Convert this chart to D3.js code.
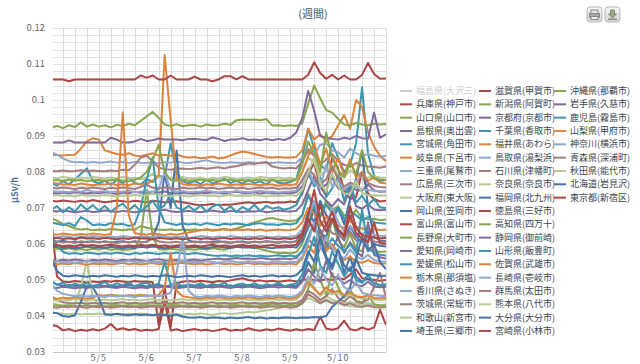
<!DOCTYPE html>
<html>
<head>
<meta charset="utf-8">
<script src="https://cdn.jsdelivr.net/npm/d3@7"></script>
<style>
  body { margin: 0; background: #fff; }
  svg { display: block; font-family: 'Noto Sans CJK JP', 'Noto Sans', sans-serif; }
</style>
</head>
<body>
<svg id="chart" width="640" height="364"></svg>
<script>
// legend order (column by column), 福島 is switched off in the original
var seriesNames = [
  '福島県(大沢三)', '兵庫県(神戸市)', '山口県(山口市)', '島根県(奥出雲)', '宮城県(角田市)', '岐阜県(下呂市)',
  '三重県(尾鷲市)', '広島県(三次市)', '大阪府(東大阪)', '岡山県(笠岡市)', '富山県(富山市)', '長野県(大町市)',
  '愛知県(岡崎市)', '愛媛県(松山市)', '栃木県(那須塩)', '香川県(さぬき)', '茨城県(常総市)', '和歌山(新宮市)',
  '埼玉県(三郷市)', '滋賀県(甲賀市)', '新潟県(阿賀町)', '京都府(京都市)', '千葉県(香取市)', '福井県(あわら)',
  '鳥取県(湯梨浜)', '石川県(津幡町)', '奈良県(奈良市)', '福岡県(北九州)', '徳島県(三好市)', '高知県(四万十)',
  '静岡県(御前崎)', '山形県(飯豊町)', '佐賀県(武雄市)', '長崎県(壱岐市)', '群馬県(太田市)', '熊本県(八代市)',
  '大分県(大分市)', '宮崎県(小林市)', '沖縄県(那覇市)', '岩手県(久慈市)', '鹿児島(霧島市)', '山梨県(甲府市)',
  '神奈川(横浜市)', '青森県(深浦町)', '秋田県(能代市)', '北海道(岩見沢)', '東京都(新宿区)'
];
var hiddenSeries = ['福島県(大沢三)'];

// readings in nSv/h (= 0.001 uSv/h), every 3 hours from 5/4 00:00 to 5/11 00:00
var hyogo = [
  72.0,71.8,72.1,71.9,71.7,72.0,71.8,72.2, 71.9,71.6,71.8,72.1,71.9,71.7,72.0,71.8,
  71.6,72.0,71.8,71.5,71.7,71.9,71.6,71.3, 71.0,70.8,70.9,71.1,70.8,71.0,70.9,71.2,
  71.4,71.6,71.3,71.5,71.7,71.4,71.6,71.5, 71.8,71.6,74.0,79.5,82.5,76.0,73.5,84.0,
  81.0,75.0,72.5,73.0,80.0,74.0,72.5,71.8, 72.0];
var yamaguchi = [
  67.2,66.5,65.5,65.0,64.3,64.0,64.2,63.8, 64.0,63.9,64.2,64.0,63.8,64.1,64.0,65.0,
  64.5,64.2,64.0,63.9,64.1,63.8,64.0,63.9, 64.0,63.8,64.1,63.9,64.0,64.2,63.9,64.3,
  64.8,65.4,66.0,66.5,67.0,67.2,66.8,66.5, 66.4,66.6,68.0,74.0,70.5,68.0,72.0,69.5,
  70.5,68.0,67.5,69.5,67.2,66.8,67.0,66.6, 66.8];
var shimane = [
  74.2,74.0,74.3,74.1,74.4,74.2,74.0,74.3, 74.1,74.4,74.2,73.9,74.3,74.1,74.5,74.2,
  74.4,74.0,74.3,74.6,74.2,74.0,74.3,74.1, 74.0,74.3,74.1,74.4,74.2,74.0,74.3,74.5,
  74.2,74.1,74.4,74.0,74.3,74.2,74.0,74.2, 74.1,74.4,76.0,79.0,77.5,75.5,76.5,78.5,
  75.5,74.6,76.0,75.0,74.8,76.5,74.9,74.5, 74.6];
var miyagi = [
  77.0,76.2,77.5,76.5,78.0,79.5,81.0,77.5, 76.8,77.6,76.4,77.8,76.9,78.4,77.0,76.5,
  78.0,77.2,79.0,78.5,88.0,80.0,77.4,76.8, 77.5,76.6,77.9,76.8,77.4,78.2,76.9,77.6,
  76.7,77.8,76.9,77.4,76.5,77.9,77.0,76.8, 77.2,78.0,84.0,92.0,86.5,82.0,80.5,88.0,
  84.0,80.0,82.0,88.0,103.5,85.0,79.0,77.5, 77.8];
var gifu = [
  84.7,84.7,84.6,84.7,84.8,86.5,88.5,89.4, 89.0,86.0,85.5,85.0,84.8,85.2,84.6,84.4,
  84.8,85.2,84.6,84.8,84.5,84.9,84.3,84.0, 84.2,83.8,84.0,84.3,83.8,84.0,84.6,85.2,
  85.7,85.4,85.0,84.6,84.2,84.0,84.2,84.0, 84.0,84.2,86.0,92.0,89.0,90.5,88.5,90.0,
  93.0,95.8,92.0,100.0,98.0,91.0,87.0,84.5, 83.0];
var mie = [
  85.6,84.8,83.8,83.0,82.7,82.8,82.6,82.8, 82.6,82.7,82.9,82.6,82.8,82.5,82.8,82.6,
  82.5,82.8,82.4,82.7,82.6,82.9,82.6,82.5, 82.7,83.0,83.3,82.8,82.6,82.5,82.7,82.6,
  82.5,82.8,82.6,82.4,82.6,82.5,82.7,82.6, 82.5,82.6,84.0,86.5,85.0,87.5,88.0,86.0,
  85.5,84.0,86.5,85.2,84.5,85.0,84.5,84.2, 84.5];
var hiroshima = [
  80.3,80.2,80.4,80.2,80.3,80.5,80.2,80.4, 80.3,80.2,80.4,80.3,80.6,80.5,82.0,84.0,
  84.5,83.0,81.2,80.8,80.6,80.9,81.0,80.8, 81.0,81.2,80.9,81.1,81.3,81.0,81.4,81.6,
  82.0,82.4,82.2,82.6,82.8,81.5,81.2,81.0, 81.2,81.0,83.0,86.0,84.5,82.0,83.5,85.0,
  83.0,82.0,81.5,82.5,81.8,81.5,81.4,81.2, 81.5];
var osaka = [
  78.5,78.3,78.6,78.4,78.2,78.5,78.3,78.6, 78.4,78.2,78.5,78.3,78.6,78.2,78.4,78.0,
  78.5,79.5,78.6,78.2,78.4,78.3,78.6,78.2, 78.3,78.5,78.0,78.4,78.2,78.6,78.4,78.1,
  78.3,78.5,78.2,78.6,78.4,78.3,78.5,78.2, 78.4,78.0,80.0,84.0,82.5,79.0,80.5,82.0,
  79.0,78.5,80.5,79.2,78.6,78.4,78.8,78.5, 78.4];
var okayama = [
  60.8,60.6,60.9,60.5,60.7,60.4,60.6,60.8, 60.5,60.7,60.4,60.6,60.8,60.5,60.7,60.4,
  60.6,62.0,66.0,80.0,70.0,86.0,65.0,61.0, 60.5,60.7,60.4,60.6,60.8,60.5,60.3,60.6,
  60.7,60.4,60.6,60.5,60.8,60.6,60.4,60.7, 60.5,60.8,63.0,69.0,66.0,72.0,68.0,66.5,
  70.0,65.5,72.5,78.0,86.0,70.0,62.0,61.0, 60.8];
var toyama = [
  67.6,51.0,49.6,49.4,49.7,49.5,49.3,49.6, 49.4,49.7,49.5,49.8,49.6,49.4,49.7,49.5,
  49.6,49.4,37.5,48.0,37.0,49.2,49.5,49.7, 49.5,49.8,49.6,49.4,49.7,49.5,49.9,50.2,
  50.5,50.0,49.7,49.9,49.6,49.8,49.5,49.7, 49.9,49.6,50.0,50.2,50.0,49.8,50.3,50.0,
  50.5,50.2,51.5,53.0,50.5,50.2,50.0,49.8, 50.0];
var nagano = [
  59.0,58.7,58.5,58.8,58.4,58.6,58.3,58.7, 58.5,58.8,58.4,58.6,58.3,58.5,58.7,62.0,
  75.0,62.0,58.6,58.4,58.7,58.5,58.3,58.6, 58.4,58.7,58.5,58.8,58.6,58.4,58.9,59.2,
  59.5,59.3,59.0,58.6,58.2,57.8,57.5,57.6, 57.4,57.7,60.0,65.0,72.0,62.0,58.5,67.0,
  61.0,59.0,63.0,58.5,58.0,64.0,58.2,57.8, 57.9];
var aichi = [
  69.2,69.0,69.3,69.1,68.8,69.0,69.2,68.9, 69.0,69.3,69.1,68.9,69.2,69.0,68.8,69.1,
  69.3,69.0,69.2,69.5,69.1,68.9,69.0,69.2, 69.0,68.8,69.1,69.3,69.0,68.9,69.2,69.0,
  68.9,69.1,69.0,69.2,68.8,69.0,69.3,69.1, 69.0,69.2,71.0,75.0,79.0,74.0,72.0,70.5,
  72.5,71.0,75.5,70.5,69.8,71.0,69.6,69.4, 69.5];
var ehime = [
  69.5,70.5,68.8,70.2,69.0,71.0,69.5,70.8, 69.2,70.6,68.9,70.3,71.2,69.4,70.8,69.0,
  70.5,72.0,69.5,70.8,74.0,70.2,69.4,70.6, 69.3,70.7,69.0,70.4,71.0,69.2,70.5,68.9,
  70.3,69.4,70.9,69.1,70.6,69.8,70.2,69.5, 70.0,70.8,74.5,80.0,76.0,78.5,73.0,75.5,
  79.0,72.0,77.0,71.5,73.5,70.8,72.5,70.2, 70.0];
var tochigi = [
  77.0,76.8,76.5,76.6,76.4,76.8,76.5,76.3, 76.6,76.5,76.8,76.4,76.6,76.3,76.8,76.5,
  76.8,77.5,79.0,112.5,94.5,78.0,76.6,76.4, 76.5,76.2,76.6,76.4,76.8,76.5,76.3,76.6,
  76.4,76.7,76.5,76.3,76.6,76.5,76.2,76.5, 76.4,76.6,80.0,84.5,88.0,82.0,86.5,80.0,
  84.0,79.0,83.5,78.5,80.0,77.5,78.5,77.0, 76.8];
var kagawa = [
  74.8,74.5,74.6,74.4,74.7,74.5,75.0,74.6, 74.5,74.7,74.4,74.6,74.5,74.8,74.4,74.6,
  74.6,74.5,75.2,80.0,75.0,74.5,74.7,74.4, 74.5,74.6,74.8,74.5,74.3,74.6,74.4,74.7,
  74.5,74.4,74.6,74.8,74.5,74.6,74.3,74.5, 74.6,74.8,78.0,80.5,77.0,75.5,82.0,76.0,
  77.5,75.0,76.5,75.8,75.2,75.0,74.8,74.6, 74.7];
var ibaraki = [
  75.6,75.4,75.7,75.5,75.3,75.6,75.4,75.7, 75.5,75.3,75.6,75.4,75.7,75.5,75.3,75.8,
  76.5,75.6,75.4,75.7,75.5,75.3,75.6,75.4, 75.5,75.7,75.4,75.6,75.3,75.5,75.7,75.4,
  75.6,75.3,75.5,75.7,75.4,75.6,75.3,75.5, 75.4,75.6,77.5,81.0,79.0,76.5,78.0,81.5,
  78.0,76.0,77.0,76.5,79.5,77.0,76.2,75.8, 75.6];
var wakayama = [
  43.5,43.2,43.0,43.2,43.5,48.0,55.5,45.0, 43.2,43.0,43.3,43.1,42.9,43.2,43.0,43.3,
  43.1,43.4,43.2,43.0,43.3,43.1,42.9,43.2, 43.0,43.3,43.1,42.9,43.2,43.0,43.3,43.1,
  42.9,43.2,43.0,43.3,43.1,42.9,43.2,43.0, 43.3,43.1,44.0,46.0,45.0,44.0,45.5,44.5,
  44.0,43.5,44.0,43.4,43.2,43.6,43.1,43.0, 43.2];
var saitama = [
  59.0,59.2,58.9,59.1,58.8,59.0,59.3,59.0, 59.1,58.9,59.2,59.0,58.8,59.1,58.9,59.2,
  59.0,59.3,59.1,58.8,59.0,59.2,58.9,59.1, 59.2,59.0,58.8,59.1,59.3,59.0,58.9,59.2,
  59.0,59.1,58.9,59.2,59.0,58.8,59.1,59.0, 59.2,59.0,61.0,64.5,70.0,63.0,62.0,67.0,
  63.0,61.0,65.0,62.0,60.5,63.5,60.0,59.5, 59.3];
var shiga = [
  105.7,105.7,105.7,105.2,105.7,105.7,105.7,105.7, 105.7,105.7,105.7,105.7,105.7,105.7,105.7,106.8,
  106.2,106.8,105.7,105.7,106.8,105.7,105.7,105.7, 106.5,105.7,105.7,105.2,105.7,106.6,106.6,105.7,
  106.6,105.7,105.7,105.7,105.7,105.7,105.7,105.7, 105.7,105.7,105.7,107.0,110.5,107.5,105.9,107.0,
  105.7,106.8,105.7,105.7,107.0,110.3,107.2,105.9, 106.0];
var niigata = [
  92.3,92.8,92.2,93.0,92.5,93.8,92.6,93.2, 92.6,93.0,92.4,93.1,92.8,93.4,93.0,94.2,
  95.5,96.7,95.0,93.2,92.8,93.3,92.7,93.0, 93.1,92.6,93.2,92.9,93.0,93.4,93.1,94.4,
  94.6,94.5,94.6,94.4,94.7,92.9,93.0,92.8, 93.0,92.8,93.5,99.0,104.0,100.5,97.2,96.5,
  94.8,93.2,93.0,93.6,93.2,93.0,93.4,93.2, 93.3];
var kyoto = [
  88.2,88.2,88.2,88.8,88.2,88.2,88.2,88.2, 88.2,88.2,89.5,89.0,88.2,88.2,88.5,89.2,
  88.6,88.8,89.3,89.0,89.0,89.0,88.8,89.2, 89.2,89.0,88.9,89.6,89.2,88.6,89.0,89.0,
  89.4,88.9,89.0,88.8,89.2,88.8,89.2,88.9, 89.5,91.0,95.0,102.5,97.0,90.0,89.5,89.2,
  89.0,89.5,89.2,90.0,89.4,89.2,96.5,89.5, 90.5];
var chiba = [
  66.0,65.6,65.3,65.8,65.0,67.5,66.5,65.2, 65.5,65.2,65.8,65.4,65.6,65.0,65.5,70.0,
  78.0,84.0,70.0,66.0,65.6,65.3,65.7,65.4, 65.6,65.3,65.8,65.5,65.2,65.6,65.4,65.7,
  65.5,65.2,65.6,65.8,65.4,65.5,65.3,65.6, 65.4,65.8,68.0,73.5,70.0,67.5,71.0,68.5,
  70.0,67.0,69.0,68.0,66.5,67.5,66.0,65.8, 65.6];
var fukui = [
  62.8,62.6,62.9,62.7,62.5,62.8,62.6,62.9, 62.7,62.5,62.8,70.0,96.5,68.0,63.0,62.8,
  62.6,62.9,62.7,62.5,62.8,62.6,62.9,63.2, 63.5,63.8,64.0,63.7,63.9,64.1,63.8,64.0,
  63.9,64.1,63.8,64.0,63.7,63.9,64.0,63.8, 63.9,64.2,66.0,70.0,68.5,65.0,67.5,66.0,
  65.0,64.5,66.5,64.8,64.3,64.0,64.2,63.9, 64.0];
var tottori = [
  62.0,61.8,62.2,62.0,61.7,62.1,61.9,62.2, 62.0,61.8,62.1,61.9,62.2,62.0,61.8,62.1,
  62.0,61.9,62.3,62.0,61.8,62.1,62.0,61.7, 61.9,62.2,62.0,61.8,62.1,61.9,62.2,62.0,
  61.8,62.1,61.9,62.2,62.0,61.8,62.1,61.9, 62.0,62.3,64.0,67.5,72.0,66.0,64.5,70.0,
  66.0,63.5,65.0,63.0,62.6,64.0,62.5,62.3, 62.2];
var ishikawa = [
  60.5,60.7,60.4,60.6,60.3,60.8,60.5,60.6, 60.4,60.7,60.5,60.3,60.6,60.4,60.8,60.5,
  60.6,61.5,60.7,60.5,60.4,60.6,60.3,60.5, 60.7,60.4,60.6,60.3,60.5,60.7,60.4,60.6,
  60.5,60.3,60.6,60.4,60.7,60.5,60.3,60.6, 60.4,60.7,62.0,66.0,64.0,62.0,65.5,63.0,
  62.5,61.5,63.5,61.0,60.8,62.5,60.7,60.5, 60.6];
var nara = [
  41.0,40.8,40.6,40.5,40.7,40.4,40.6,40.5, 40.7,40.4,40.6,40.5,40.3,40.6,40.4,40.7,
  40.5,40.3,40.6,40.4,40.7,40.5,40.3,40.6, 40.4,40.7,40.5,40.3,40.6,40.8,40.5,40.7,
  40.9,41.2,41.0,41.3,41.5,41.8,42.2,42.5, 42.8,42.6,43.5,45.0,44.2,43.6,44.5,43.8,
  43.5,43.0,42.8,42.6,42.5,42.8,42.4,42.3, 42.5];
var fukuoka = [
  49.5,48.8,48.4,48.6,48.3,48.5,48.2,48.4, 48.6,48.3,48.5,48.2,48.4,48.6,48.3,48.5,
  48.2,48.4,48.6,48.3,48.5,48.2,48.4,48.6, 48.3,48.5,48.2,48.4,48.6,48.3,48.5,48.2,
  48.4,48.6,48.3,48.5,48.2,48.4,48.6,48.3, 48.5,48.2,50.0,55.0,52.0,60.0,56.0,53.0,
  58.0,52.0,56.5,51.0,49.5,50.5,49.0,48.6, 48.5];
var tokushima = [
  37.5,37.2,36.0,36.4,35.8,36.2,35.9,36.3, 36.0,36.5,37.8,36.2,36.6,36.1,36.4,35.9,
  36.2,36.0,36.4,44.0,36.0,36.3,35.8,36.1, 36.4,36.0,36.2,35.8,36.1,36.5,35.9,36.2,
  36.0,36.6,36.1,35.9,36.3,36.0,36.5,36.2, 35.9,36.3,36.0,36.4,36.1,39.8,36.5,36.2,
  36.6,38.7,36.3,36.0,36.8,36.2,36.8,41.7, 37.5];
var kochi = [
  42.8,43.0,42.7,42.9,42.6,42.8,43.0,42.7, 42.9,42.6,42.8,43.0,42.7,42.9,42.6,42.8,
  43.0,42.7,42.9,42.6,42.8,43.0,42.7,42.9, 42.6,42.8,43.0,42.7,42.9,42.6,42.8,43.0,
  42.7,42.9,42.6,42.8,43.0,43.5,43.0,42.8, 43.0,42.7,44.0,47.5,55.0,50.0,46.0,52.0,
  48.0,45.0,47.5,44.0,43.5,46.0,43.2,43.0, 42.9];
var shizuoka = [
  55.5,55.3,55.6,55.4,55.7,55.5,55.2,55.6, 55.4,55.7,55.5,55.3,55.6,55.4,55.7,55.5,
  55.3,55.6,55.8,55.5,55.4,55.6,55.3,55.5, 55.7,55.4,55.6,55.8,56.0,55.7,55.9,56.1,
  55.9,56.0,55.8,56.1,55.9,55.7,55.9,56.0, 55.8,56.1,58.0,61.5,59.5,64.0,60.0,58.5,
  62.0,57.5,60.5,58.0,56.5,66.0,57.0,56.3, 56.0];
var yamagata = [
  63.0,59.5,57.8,57.3,57.5,57.2,57.6,57.4, 57.2,57.5,57.3,57.6,57.4,57.1,57.5,57.3,
  57.6,57.4,57.2,57.5,57.3,57.6,57.4,57.2, 57.5,57.3,57.0,56.8,56.7,56.9,56.6,56.8,
  56.7,56.9,56.6,56.8,56.5,56.7,56.9,56.6, 56.8,56.5,58.0,62.0,66.0,60.5,59.0,61.5,
  59.5,58.0,60.0,57.5,69.5,59.0,57.5,57.0, 56.8];
var saga = [
  54.5,54.3,54.6,54.4,54.7,54.5,54.2,54.6, 54.4,54.6,54.3,54.5,54.8,54.4,54.6,54.3,
  54.5,54.7,54.4,54.6,54.3,54.5,54.8,54.5, 54.4,54.6,54.3,54.5,54.7,54.4,54.6,54.3,
  54.5,54.7,54.4,54.6,54.3,54.5,54.6,54.4, 54.6,54.3,56.0,59.5,57.5,62.5,58.0,60.0,
  57.5,55.5,56.5,55.0,54.8,55.5,54.7,54.5, 54.6];
var nagasaki = [
  55.0,55.2,54.9,55.1,54.8,55.0,55.3,55.1, 54.9,55.2,55.0,54.8,55.1,55.3,55.0,54.9,
  55.2,55.0,55.1,54.9,55.2,55.1,55.4,55.0, 55.1,54.9,55.2,55.0,54.8,55.1,55.3,55.0,
  54.9,55.2,55.0,55.1,54.8,55.0,55.2,54.9, 55.1,55.0,56.5,60.5,66.0,58.5,62.0,59.0,
  57.0,56.0,58.5,56.5,55.8,57.0,55.5,55.2, 55.1];
var gunma = [
  45.5,44.5,43.8,43.6,43.5,43.7,43.4,43.6, 43.5,43.7,43.4,43.6,43.8,43.5,43.7,43.4,
  43.6,43.8,43.5,43.7,43.4,43.6,43.8,43.5, 43.7,43.4,43.6,43.8,43.5,43.7,43.4,43.6,
  43.8,43.5,43.7,43.4,43.6,43.8,43.5,43.7, 43.4,43.6,44.5,47.0,46.0,44.5,45.5,47.5,
  45.0,44.0,45.5,44.2,43.8,44.5,48.0,52.0, 45.0];
var kumamoto = [
  44.5,44.3,44.6,44.4,44.7,44.5,44.2,44.6, 44.4,44.6,44.3,44.5,44.7,44.4,44.6,44.3,
  44.5,44.7,44.4,44.6,44.3,44.5,44.7,44.4, 44.6,44.3,44.5,44.7,44.4,44.6,44.3,44.5,
  44.7,44.4,44.6,44.3,44.5,44.7,44.4,44.6, 44.3,44.5,46.0,50.0,48.0,45.5,47.5,46.0,
  46.5,45.0,46.0,45.2,44.8,45.5,44.6,44.4, 44.5];
var oita = [
  41.0,40.8,40.0,39.8,40.2,44.0,48.2,48.0, 45.0,40.5,40.3,40.6,40.4,40.2,40.5,40.3,
  40.4,40.2,40.5,40.3,40.1,40.4,39.8,39.6, 39.5,39.7,39.4,39.6,39.5,39.3,39.6,39.4,
  39.5,39.7,39.4,39.6,39.3,39.5,39.4,39.6, 39.5,39.4,39.6,39.5,39.7,39.6,40.0,42.5,
  44.0,45.5,48.0,56.0,62.0,58.0,60.0,55.0, 53.0];
var miyazaki = [
  59.5,59.7,59.4,59.6,59.3,59.8,59.5,59.7, 59.4,59.6,59.8,59.5,59.3,59.6,59.4,59.7,
  59.5,59.8,59.4,59.6,59.3,59.5,59.7,59.4, 59.6,59.3,59.5,59.8,59.4,59.6,59.3,59.5,
  59.7,59.4,59.6,59.3,59.5,59.7,59.4,59.6, 59.5,59.8,62.0,67.0,63.5,71.0,65.0,69.0,
  64.0,62.0,68.0,63.0,61.5,60.5,66.0,60.2, 60.0];
var okinawa = [
  77.6,77.8,77.5,77.9,77.6,77.8,77.4,77.7, 77.8,77.5,77.7,77.9,77.6,77.4,77.8,78.5,
  80.0,83.5,87.5,80.0,77.8,77.6,77.9,77.5, 77.7,77.9,77.6,77.8,77.5,77.7,77.9,77.6,
  77.8,77.5,77.7,77.9,77.6,77.8,77.5,77.7, 77.6,78.0,82.0,88.5,85.0,80.0,91.0,84.0,
  80.5,78.5,82.5,79.5,86.0,80.0,78.2,77.9, 77.8];
var iwate = [
  48.0,47.8,48.1,47.9,47.7,48.0,47.8,48.1, 47.9,48.2,48.0,47.8,48.1,47.9,47.7,48.0,
  47.8,48.1,47.9,48.2,48.0,47.7,47.9,48.1, 48.0,47.8,48.1,47.9,48.2,48.0,47.8,48.1,
  47.9,48.2,48.0,47.7,48.0,48.2,47.9,48.1, 48.0,47.8,49.5,53.0,51.0,49.5,55.5,51.0,
  50.5,49.0,50.0,48.6,48.3,49.5,48.2,48.0, 48.1];
var kagoshima = [
  49.8,48.6,49.3,48.2,49.0,48.4,49.2,48.1, 48.8,49.4,48.3,49.1,48.5,49.3,48.2,48.9,
  49.2,48.4,49.0,55.0,48.6,49.3,48.2,48.8, 48.4,49.1,48.3,48.9,48.5,49.2,48.1,48.7,
  49.0,48.4,49.1,48.2,48.8,48.5,49.2,48.3, 48.7,49.0,51.5,57.0,62.0,54.0,52.0,58.0,
  54.5,51.0,53.5,50.0,49.2,51.5,49.0,48.6, 48.8];
var yamanashi = [
  45.0,44.8,45.1,44.9,45.2,45.0,44.8,45.1, 45.8,45.6,45.9,45.7,45.5,45.8,45.6,45.9,
  45.7,45.5,45.8,48.0,57.5,47.0,45.5,45.2, 45.0,44.8,45.1,44.9,45.2,45.0,44.8,45.1,
  44.9,45.2,45.0,44.8,45.1,44.9,45.2,45.0, 44.8,45.1,46.5,49.5,47.5,46.0,48.0,46.5,
  47.0,45.8,46.5,45.5,45.2,45.8,45.0,44.9, 45.0];
var kanagawa = [
  49.0,47.0,46.2,45.8,45.5,45.7,45.4,45.6, 45.5,45.3,45.6,45.4,45.7,45.5,45.3,45.6,
  45.4,45.7,45.5,45.8,46.5,52.0,62.0,47.0, 45.5,45.3,45.6,45.4,45.7,45.5,45.3,45.6,
  45.4,45.7,45.5,45.3,45.6,45.4,45.7,45.5, 45.3,45.6,47.0,51.0,49.0,53.5,50.0,48.5,
  51.5,48.0,47.0,49.5,46.5,46.0,45.8,45.6, 45.5];
var aomori = [
  42.5,42.3,42.6,42.4,42.7,42.5,42.3,42.6, 42.4,42.6,42.3,42.5,42.7,42.4,42.6,42.3,
  42.5,42.7,42.4,42.6,42.3,42.5,42.7,42.4, 42.6,42.3,42.5,42.7,42.4,42.6,42.3,42.5,
  42.7,42.4,42.6,42.3,42.5,42.7,42.4,42.6, 42.3,42.5,43.5,46.0,45.0,43.5,44.5,43.5,
  44.0,43.0,43.5,42.8,42.6,43.0,42.5,42.4, 42.5];
var akita = [
  73.4,73.6,73.3,73.5,73.2,73.6,73.4,73.5, 73.3,73.6,73.4,73.2,73.5,73.3,73.6,73.4,
  73.5,74.0,73.6,73.4,73.3,73.6,73.5,73.2, 73.4,73.6,73.3,73.5,73.2,73.4,73.6,73.3,
  73.5,73.3,73.6,73.4,73.2,73.5,73.3,73.4, 73.6,73.3,75.0,80.0,84.0,77.0,74.5,79.5,
  76.0,74.0,73.8,77.5,74.2,73.6,73.5,73.4, 73.5];
var hokkaido = [
  56.0,52.5,51.2,51.0,51.3,51.1,50.9,51.2, 51.0,51.3,51.1,50.9,51.2,51.0,51.3,51.1,
  50.9,51.2,51.0,51.3,51.1,50.8,51.0,51.2, 51.0,51.3,51.1,50.9,51.2,51.0,50.8,51.1,
  51.3,51.0,51.2,50.9,51.1,51.3,51.0,51.2, 51.0,51.3,53.0,58.0,55.0,62.0,56.5,54.0,
  58.5,54.0,52.5,56.0,52.0,51.5,51.3,51.1, 51.2];
var tokyo = [
  61.5,61.7,61.4,61.6,61.3,61.8,61.5,61.6, 61.4,61.7,61.5,61.3,61.6,61.4,61.8,61.5,
  61.6,61.3,61.7,61.5,61.4,61.6,61.3,61.5, 61.7,61.4,61.6,61.3,61.5,61.7,61.4,61.6,
  61.5,61.3,61.6,61.4,61.7,61.5,61.3,61.6, 61.4,61.7,63.0,68.0,75.0,66.5,63.5,67.0,
  64.0,62.5,70.5,64.5,62.5,62.0,61.8,61.6, 61.7];

var seriesValues = [
  null, hyogo, yamaguchi, shimane, miyagi, gifu, mie, hiroshima, osaka, okayama, toyama, nagano,
  aichi, ehime, tochigi, kagawa, ibaraki, wakayama, saitama, shiga, niigata, kyoto, chiba, fukui,
  tottori, ishikawa, nara, fukuoka, tokushima, kochi, shizuoka, yamagata, saga, nagasaki, gunma, kumamoto,
  oita, miyazaki, okinawa, iwate, kagoshima, yamanashi, kanagawa, aomori, akita, hokkaido, tokyo
];

var yTicks = [0.03, 0.04, 0.05, 0.06, 0.07, 0.08, 0.09, 0.1, 0.11, 0.12];
var dayTicks = ['2012-05-05', '2012-05-06', '2012-05-07', '2012-05-08', '2012-05-09', '2012-05-10'];
var firstReading = new Date(2012, 4, 4, 0, 0);
var stepHours = 3;

var palette = ['#4572A7', '#AA4643', '#89A54E', '#80699B', '#3D96AE', '#DB843D', '#92A8CD', '#A47D7C', '#B5CA92'];

var plot = { left: 53, right: 386, top: 28, bottom: 352 };

var svg = d3.select('#chart');

var x = d3.scaleTime()
  .domain([new Date(2012, 4, 4, 1), new Date(2012, 4, 11, 0)])
  .range([plot.left, plot.right]);
var y = d3.scaleLinear().domain([0.03, 0.12]).range([plot.bottom, plot.top]);

function timeAt(i) { return d3.timeHour.offset(firstReading, i * stepHours); }

// grid
var grid = svg.append('g');
grid.selectAll('line.h')
  .data(d3.range(30, 121, 2).map(function(v) { return v / 1000; }))
  .enter().append('line')
  .attr('x1', plot.left).attr('x2', plot.right)
  .attr('y1', function(d) { return Math.round(y(d)) + 0.5; })
  .attr('y2', function(d) { return Math.round(y(d)) + 0.5; })
  .attr('stroke', '#e2e2e2');
grid.selectAll('line.v')
  .data(d3.timeHour.every(6).range(new Date(2012, 4, 4, 1), new Date(2012, 4, 11, 1)))
  .enter().append('line')
  .attr('x1', function(d) { return Math.round(x(d)) + 0.5; })
  .attr('x2', function(d) { return Math.round(x(d)) + 0.5; })
  .attr('y1', plot.top).attr('y2', plot.bottom)
  .attr('stroke', '#dcdcdc');

svg.append('line')
  .attr('x1', plot.left).attr('x2', plot.right)
  .attr('y1', plot.bottom + 0.5).attr('y2', plot.bottom + 0.5)
  .attr('stroke', '#c0c8d0');

// axis labels
svg.append('g').selectAll('text')
  .data(yTicks)
  .enter().append('text')
  .attr('x', 45).attr('y', function(d) { return y(d); })
  .attr('dy', '0.35em')
  .attr('text-anchor', 'end')
  .attr('font-size', '9.5px')
  .attr('fill', '#666')
  .text(function(d) { return String(d); });

svg.append('g').selectAll('text')
  .data(dayTicks.map(function(s) { return d3.timeParse('%Y-%m-%d')(s); }))
  .enter().append('text')
  .attr('x', function(d) { return x(d); })
  .attr('y', 361)
  .attr('text-anchor', 'middle')
  .attr('font-size', '9px')
  .attr('letter-spacing', '1px')
  .attr('fill', '#666')
  .text(d3.timeFormat('%-m/%-d'));

svg.append('text')
  .attr('transform', 'translate(18,' + ((plot.top + plot.bottom) / 2) + ') rotate(-90)')
  .attr('text-anchor', 'middle')
  .attr('font-size', '9px')
  .attr('font-weight', 'bold')
  .attr('fill', '#4d759e')
  .text('μSv/h');

svg.append('text')
  .attr('x', 313).attr('y', 18)
  .attr('text-anchor', 'middle')
  .attr('font-size', '11px')
  .attr('fill', '#3E576F')
  .text('(週間)');

// series lines
svg.append('clipPath').attr('id', 'plotclip')
  .append('rect')
  .attr('x', plot.left).attr('y', plot.top)
  .attr('width', plot.right - plot.left).attr('height', plot.bottom - plot.top);

var line = d3.line()
  .x(function(d, i) { return x(timeAt(i)); })
  .y(function(d) { return y(d / 1000); });

svg.append('g')
  .attr('clip-path', 'url(#plotclip)')
  .selectAll('path')
  .data(seriesNames.map(function(n, i) { return { name: n, idx: i, values: seriesValues[i] }; })
    .filter(function(s) { return s.values && hiddenSeries.indexOf(s.name) < 0; }))
  .enter().append('path')
  .attr('d', function(s) { return line(s.values); })
  .attr('fill', 'none')
  .attr('stroke', function(s) { return palette[s.idx % palette.length]; })
  .attr('stroke-width', 2)
  .attr('stroke-linejoin', 'round');

// legend, filled column by column
var legendCols = [400, 479, 554];
var rowsPerCol = 19;
var item = svg.append('g').selectAll('g')
  .data(seriesNames)
  .enter().append('g')
  .attr('transform', function(d, i) {
    return 'translate(' + legendCols[Math.floor(i / rowsPerCol)] + ',' + (91 + (i % rowsPerCol) * 13.33) + ')';
  });
item.append('line')
  .attr('x1', 0).attr('x2', 12)
  .attr('stroke-width', 2)
  .attr('stroke', function(d, i) { return hiddenSeries.indexOf(d) >= 0 ? '#ccc' : palette[i % palette.length]; });
item.append('text')
  .attr('x', 16).attr('dy', '0.35em')
  .attr('font-size', '9px')
  .attr('fill', function(d) { return hiddenSeries.indexOf(d) >= 0 ? '#ccc' : '#3a4450'; })
  .text(function(d) { return d; });

// print / export buttons
var defs = svg.append('defs');
var grad = defs.append('linearGradient').attr('id', 'btngrad').attr('x1', 0).attr('y1', 0).attr('x2', 0).attr('y2', 1);
grad.append('stop').attr('offset', 0).attr('stop-color', '#f7f7f7');
grad.append('stop').attr('offset', 1).attr('stop-color', '#d6d6d6');
[587, 605].forEach(function(bx, k) {
  var b = svg.append('g').attr('transform', 'translate(' + bx + ',7)');
  b.append('rect').attr('width', 15).attr('height', 15).attr('rx', 3)
    .attr('fill', 'url(#btngrad)').attr('stroke', '#b8b8b8');
  if (k === 0) {
    b.append('rect').attr('x', 4).attr('y', 3).attr('width', 7).attr('height', 4).attr('fill', '#e8e8e8').attr('stroke', '#888');
    b.append('rect').attr('x', 2.5).attr('y', 6.5).attr('width', 10).attr('height', 4).attr('fill', '#aaa').attr('stroke', '#888');
    b.append('rect').attr('x', 4).attr('y', 9.5).attr('width', 7).attr('height', 3).attr('fill', '#eee').attr('stroke', '#888');
  } else {
    b.append('path').attr('d', 'M5.5,3 h4 v4 h2 l-4,4 l-4,-4 h2 z').attr('fill', '#9aa58a').attr('stroke', '#7a8a6a');
    b.append('rect').attr('x', 3).attr('y', 11.5).attr('width', 9).attr('height', 1.5).attr('fill', '#888');
  }
});
</script>
</body>
</html>
